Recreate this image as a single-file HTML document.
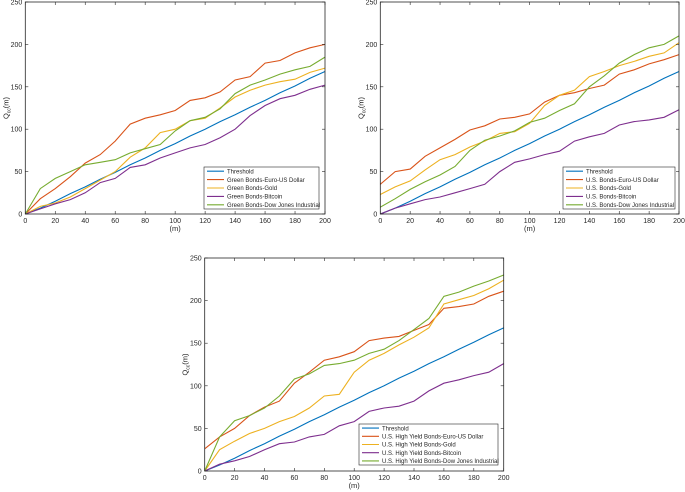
<!DOCTYPE html>
<html><head><meta charset="utf-8"><style>
body{margin:0;background:#fff;}
svg{display:block;font-family:"Liberation Sans",Arial,sans-serif;}
</style></head><body>
<svg id="c" width="685" height="492" viewBox="0 0 685 492" xmlns="http://www.w3.org/2000/svg"></svg>
<script>
const mValues = [0,10,20,30,40,50,60,70,80,90,100,110,120,130,140,150,160,170,180,190,200];
const xTicks = [0,20,40,60,80,100,120,140,160,180,200];
const yTicks = [0,50,100,150,200,250];
const threshold = [0,7,15,24,32,41,49,58,66,75,83,92,100,109,117,126,134,143,151,160,168];
// Panel 1
const p1Eur  = [0,18,30,44,60,70,86,106,113,117,122,134,137,144,158,162,178,181,190,196,200];
const p1Gold = [0,9,13,20,30,40,50,67,78,96,100,110,113,125,138,146,152,156,159,167,172];
const p1Btc  = [0,6,12,17,25,37,42,55,58,66,72,78,82,90,100,116,128,136,140,147,152];
const p1Dj   = [0,30,42,50,58,61,64,72,77,82,98,110,114,124,142,152,158,165,170,174,185];
// Panel 2
const p2Eur  = [35,50,53,68,78,88,99,104,112,114,118,132,140,143,148,152,165,170,177,182,188];
const p2Gold = [23,32,39,52,64,70,79,86,95,97,107,128,140,146,162,168,175,180,186,190,202];
const p2Btc  = [0,7,12,17,20,25,30,35,50,61,65,70,74,86,91,95,105,109,111,114,123];
const p2Dj   = [8,18,29,38,46,56,75,87,92,98,108,113,122,130,150,163,178,188,196,200,210];
// Panel 3
const p3Eur  = [26,40,50,65,75,82,103,116,130,134,140,153,156,158,165,172,191,193,196,205,211];
const p3Gold = [0,25,35,44,50,58,64,74,88,90,116,130,138,148,157,168,196,201,206,214,224];
const p3Btc  = [0,8,12,17,25,32,34,40,43,53,58,70,74,76,82,94,103,107,112,116,126];
const p3Dj   = [0,40,59,65,74,88,108,114,124,126,130,138,143,153,166,179,205,210,217,223,230];
const p1Labels = ["Threshold","Green Bonds-Euro-US Dollar","Green Bonds-Gold","Green Bonds-Bitcoin","Green Bonds-Dow Jones Industrial"];
const p2Labels = ["Threshold","U.S. Bonds-Euro-US Dollar","U.S. Bonds-Gold","U.S. Bonds-Bitcoin","U.S. Bonds-Dow Jones Industrial"];
const p3Labels = ["Threshold","U.S. High Yield Bonds-Euro-US Dollar","U.S. High Yield Bonds-Gold","U.S. High Yield Bonds-Bitcoin","U.S. High Yield Bonds-Dow Jones Industrial"];
const colors = ["#0072BD","#D95319","#EDB120","#7E2F8E","#77AC30"];

const svg = document.getElementById('c');
const NS = "http://www.w3.org/2000/svg";
function mk(tag, attrs, parent){
  const e = document.createElementNS(NS, tag);
  for (const k in attrs) e.setAttribute(k, attrs[k]);
  (parent||svg).appendChild(e);
  return e;
}
function panel(name, x0, x1, y0, y1, series, labels, leg){
  const g = mk('g', {});
  
  
  const sx = m => x0 + (m/200)*(x1-x0);
  const sy = v => y0 - (v/250)*(y0-y1);
  mk('rect',{x:x0,y:y1,width:x1-x0,height:y0-y1,fill:'#fff',stroke:'none'},g);
  series.forEach((vals,i)=>{
    const pts = vals.map((v,j)=>sx(mValues[j]).toFixed(1)+','+sy(v).toFixed(1)).join(' ');
    const pl = mk('polyline',{points:pts,fill:'none',stroke:colors[i],'stroke-width':1.1},g);
    
    
  });
  mk('rect',{x:x0,y:y1,width:x1-x0,height:y0-y1,fill:'none',stroke:'#262626','stroke-width':0.8},g);
  xTicks.forEach(t=>{
    const x = sx(t);
    mk('line',{x1:x,x2:x,y1:y0,y2:y0-3,stroke:'#262626','stroke-width':0.6},g);
    mk('line',{x1:x,x2:x,y1:y1,y2:y1+3,stroke:'#262626','stroke-width':0.6},g);
    const tx = mk('text',{x:x,y:y0+9,'font-size':7,'text-anchor':'middle',fill:'#262626'},g);
    tx.textContent = t;
    
    
  });
  yTicks.forEach(t=>{
    const y = sy(t);
    mk('line',{x1:x0,x2:x0+3,y1:y,y2:y,stroke:'#262626','stroke-width':0.6},g);
    mk('line',{x1:x1,x2:x1-3,y1:y,y2:y,stroke:'#262626','stroke-width':0.6},g);
    const tx = mk('text',{x:x0-3,y:y+2.5,'font-size':7,'text-anchor':'end',fill:'#262626'},g);
    tx.textContent = t;
    
    
  });
  const xl = mk('text',{x:(x0+x1)/2,y:y0+17,'font-size':7.5,'text-anchor':'middle',fill:'#262626'},g);
  xl.textContent = '(m)';
  
  
  const ym = (y0+y1)/2;
  const yl = mk('text',{x:x0-17,y:ym,'font-size':7.5,'text-anchor':'middle',fill:'#262626',transform:`rotate(-90 ${x0-17} ${ym})`},g);
  yl.innerHTML = 'Q<tspan font-size="5" dy="2">cc</tspan><tspan dy="-2">(m)</tspan>';
  
  
  const lg = mk('g',{},g);
  
  
  mk('rect',{x:leg[0],y:leg[1],width:leg[2]-leg[0],height:leg[3]-leg[1],fill:'#fff',stroke:'#262626','stroke-width':0.6},lg);
  const rh = (leg[3]-leg[1])/5;
  labels.forEach((l,i)=>{
    const cy = leg[1] + rh*(i+0.5);
    mk('line',{x1:leg[0]+3,x2:leg[0]+20,y1:cy,y2:cy,stroke:colors[i],'stroke-width':1.1},lg);
    const t = mk('text',{x:leg[0]+23,y:cy+2.2,'font-size':6,fill:'#262626'},lg);
    t.textContent = l;
    
    
  });
}
panel('panel-green-bonds', 25.3, 325, 214, 2, [threshold,p1Eur,p1Gold,p1Btc,p1Dj], p1Labels, [204,167,319,209]);
panel('panel-us-bonds', 380.3, 679, 214, 2, [threshold,p2Eur,p2Gold,p2Btc,p2Dj], p2Labels, [563,167,675,209]);
panel('panel-us-high-yield-bonds', 204.7, 503.7, 471, 258, [threshold,p3Eur,p3Gold,p3Btc,p3Dj], p3Labels, [359,424,498,465]);
</script>
</body></html>
